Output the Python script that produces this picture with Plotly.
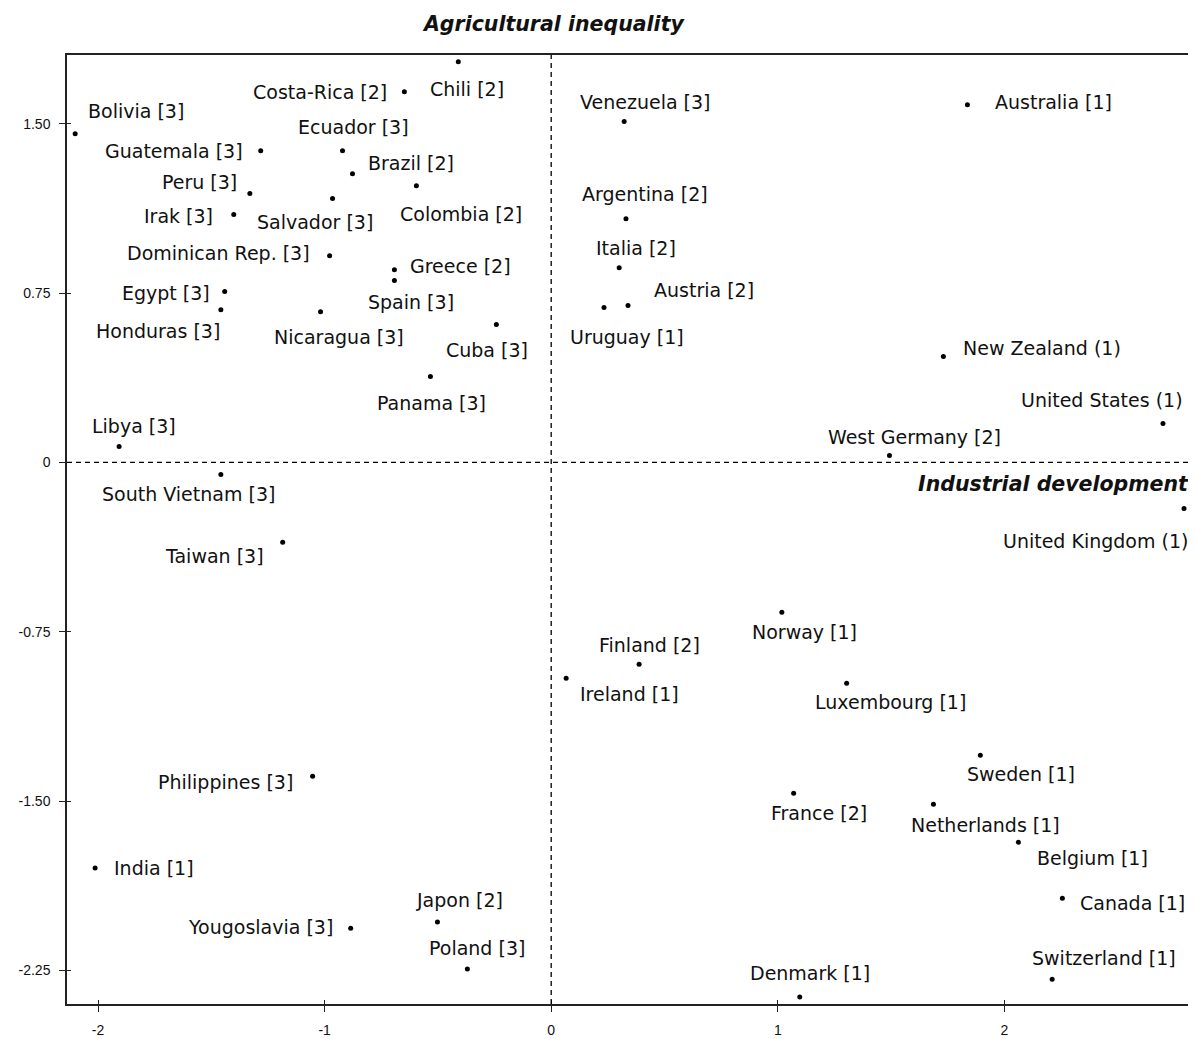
import plotly.graph_objects as go

labels = [
    "Bolivia [3]", "Chili [2]", "Costa-Rica [2]", "Ecuador [3]", "Guatemala [3]",
    "Brazil [2]", "Colombia [2]", "Peru [3]", "Salvador [3]", "Irak [3]",
    "Dominican Rep. [3]", "Greece [2]", "Spain [3]", "Egypt [3]", "Honduras [3]",
    "Nicaragua [3]", "Cuba [3]", "Panama [3]", "Libya [3]", "South Vietnam [3]",
    "Taiwan [3]", "Philippines [3]", "India [1]", "Yougoslavia [3]", "Japon [2]",
    "Poland [3]", "Venezuela [3]", "Argentina [2]", "Italia [2]", "Austria [2]",
    "Uruguay [1]", "Australia [1]", "New Zealand (1)", "United States (1)", "West Germany [2]",
    "United Kingdom (1)", "Norway [1]", "Finland [2]", "Ireland [1]", "Luxembourg [1]",
    "Sweden [1]", "France [2]", "Netherlands [1]", "Belgium [1]", "Canada [1]",
    "Switzerland [1]", "Denmark [1]",
]

industrial_dev = [
    -2.101, -0.410, -0.648, -0.921, -1.282,
    -0.877, -0.595, -1.330, -0.965, -1.401,
    -0.978, -0.692, -0.692, -1.441, -1.458,
    -1.018, -0.242, -0.533, -1.907, -1.458,
    -1.185, -1.053, -2.013, -0.885, -0.502,
    -0.370, 0.322, 0.330, 0.300, 0.339,
    0.233, 1.837, 1.731, 2.700, 1.493,
    2.793, 1.018, 0.388, 0.066, 1.304,
    1.894, 1.070, 1.687, 2.062, 2.256,
    2.211, 1.097,
]

agri_inequality = [
    1.456, 1.775, 1.642, 1.381, 1.381,
    1.279, 1.226, 1.191, 1.169, 1.098,
    0.916, 0.854, 0.806, 0.757, 0.677,
    0.668, 0.611, 0.381, 0.071, -0.053,
    -0.354, -1.390, -1.797, -2.063, -2.036,
    -2.244, 1.510, 1.080, 0.863, 0.695,
    0.686, 1.585, 0.469, 0.173, 0.031,
    -0.204, -0.664, -0.894, -0.956, -0.978,
    -1.297, -1.465, -1.514, -1.682, -1.930,
    -2.289, -2.368,
]

y_tick_vals = [1.5, 0.75, 0, -0.75, -1.5, -2.25]
y_tick_text = ["1.50", "0.75", "0", "-0.75", "-1.50", "-2.25"]
x_tick_vals = [-2, -1, 0, 1, 2]
x_tick_text = ["-2", "-1", "0", "1", "2"]

# label placement (anchor, dx px, dy px screen-down) — layout only
label_place = [
    ("left", 11, -23), ("center", 9, 27), ("right", -15, 0), ("center", 11, -24), ("right", -16, 0),
    ("left", 14, -11), ("center", 45, 28), ("right", -11, -12), ("center", -18, 23), ("right", -19, 1),
    ("right", -18, -3), ("left", 14, -4), ("center", 17, 21), ("right", -13, 1), ("center", -63, 21),
    ("center", 18, 25), ("center", -9, 25), ("center", 1, 27), ("center", 15, -20), ("center", -32, 20),
    ("center", -68, 14), ("right", -18, 6), ("left", 17, 0), ("right", -16, -1), ("center", 22, -22),
    ("center", 10, -21), ("center", 21, -20), ("center", 19, -25), ("center", 17, -20), ("left", 24, -16),
    ("center", 23, 29), ("left", 26, -3), ("left", 18, -9), ("center", -61, -23), ("center", 25, -18),
    ("center", -89, 32), ("center", 23, 20), ("center", 10, -19), ("center", 63, 16), ("center", 44, 19),
    ("center", 41, 19), ("center", 25, 20), ("center", 52, 21), ("center", 74, 16), ("left", 16, 5),
    ("center", 52, -21), ("center", 10, -24),
]

X_RANGE = [-2.137, 2.837]
Y_RANGE = [-2.399, 1.805]

LABEL_FONT = dict(family="DejaVu Sans, Verdana, sans-serif", size=19, color="#111111")
TITLE_FONT = dict(family="DejaVu Sans, Verdana, sans-serif", size=20.5, color="#111111")

fig = go.Figure()
fig.add_trace(go.Scatter(
    x=industrial_dev, y=agri_inequality, mode="markers",
    marker=dict(size=5, color="black"), text=labels, hoverinfo="text",
    showlegend=False, cliponaxis=False,
))
# invisible trace to activate the overlay axes (inner half of crossing ticks)
fig.add_trace(go.Scatter(
    x=[industrial_dev[0]], y=[agri_inequality[0]], xaxis="x2", yaxis="y2",
    mode="markers", marker=dict(size=1, opacity=0), hoverinfo="skip", showlegend=False,
))

annotations = []
for lab, xv, yv, (anc, dx, dy) in zip(labels, industrial_dev, agri_inequality, label_place):
    annotations.append(dict(
        x=xv, y=yv, xref="x", yref="y", text=lab, showarrow=False,
        xanchor=anc, yanchor="middle", xshift=dx, yshift=-dy, font=LABEL_FONT,
    ))

annotations.append(dict(
    x=0, y=1, xref="x", yref="paper", yshift=31, xshift=2,
    text="<b><i>Agricultural inequality</i></b>",
    showarrow=False, xanchor="center", yanchor="middle", font=TITLE_FONT,
))
annotations.append(dict(
    x=1, y=0, xref="paper", yref="y", xshift=-3, yshift=-22,
    text="<b><i>Industrial development</i></b>", showarrow=False,
    xanchor="right", yanchor="middle", font=TITLE_FONT,
))

fig.add_shape(type="line", x0=0, x1=0, y0=0, y1=1, xref="x", yref="paper",
              line=dict(color="black", width=1.3, dash="5px,4px"))
fig.add_shape(type="line", x0=0, x1=1, y0=0, y1=0, xref="paper", yref="y",
              line=dict(color="black", width=1.3, dash="5px,4px"))

axis_font = dict(family="Liberation Sans, Arial, sans-serif", size=14, color="#111111")
fig.update_layout(
    width=1188, height=1031,
    margin=dict(l=59, r=0, t=47, b=35),
    plot_bgcolor="white", paper_bgcolor="white",
    annotations=annotations,
    xaxis=dict(range=X_RANGE, tickvals=x_tick_vals, ticktext=x_tick_text,
               showgrid=False, zeroline=False, showline=True, mirror=True,
               linecolor="#222222", linewidth=1.5, ticks="outside", ticklen=6,
               tickcolor="#222222", tickfont=axis_font, ticklabelstandoff=6),
    yaxis=dict(range=Y_RANGE, tickvals=y_tick_vals, ticktext=y_tick_text,
               showgrid=False, zeroline=False, showline=True, mirror=True,
               linecolor="#222222", linewidth=1.5, ticks="outside", ticklen=6,
               tickcolor="#222222", tickfont=axis_font, ticklabelstandoff=6),
    xaxis2=dict(range=X_RANGE, overlaying="x", side="bottom", tickvals=x_tick_vals,
                showticklabels=False, showgrid=False, zeroline=False, showline=False,
                ticks="inside", ticklen=4, tickcolor="#222222"),
    yaxis2=dict(range=Y_RANGE, overlaying="y", side="left", tickvals=y_tick_vals,
                showticklabels=False, showgrid=False, zeroline=False, showline=False,
                ticks="inside", ticklen=4, tickcolor="#222222"),
)

fig.write_html("out.html")
